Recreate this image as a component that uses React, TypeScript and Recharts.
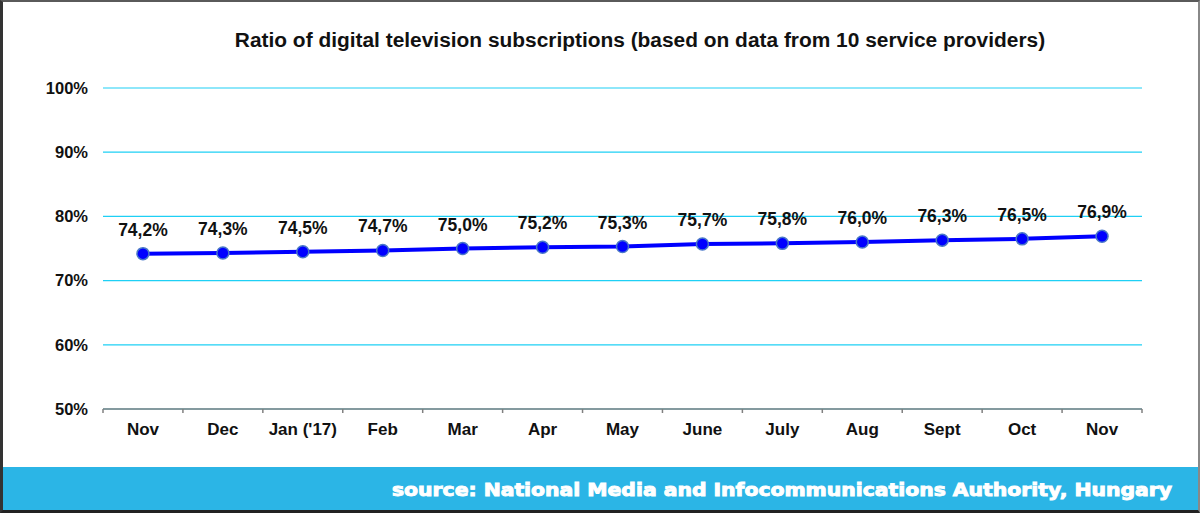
import React from 'react';
import { LineChart, Line, XAxis, YAxis, CartesianGrid, LabelList } from 'recharts';

const months = ['Nov', 'Dec', "Jan ('17)", 'Feb', 'Mar', 'Apr', 'May', 'June', 'July', 'Aug', 'Sept', 'Oct', 'Nov'];
const ratios = [74.2, 74.3, 74.5, 74.7, 75.0, 75.2, 75.3, 75.7, 75.8, 76.0, 76.3, 76.5, 76.9];
const yTicks = [50, 60, 70, 80, 90, 100];

const titleText = 'Ratio of digital television subscriptions (based on data from 10 service providers)';
const sourceText = 'source: National Media and Infocommunications Authority, Hungary';

const data = months.map((m, i) => ({ month: m, key: `${i}`, value: ratios[i] }));

const FONT = '"Liberation Sans", Arial, sans-serif';

const MonthTick = (props: any) => {
  const { x, y, payload, index } = props;
  const half = payload && payload.offset ? payload.offset : 40;
  const axisY = y - 8;
  const isLast = index === months.length - 1;
  return (
    <g>
      <line x1={x - half} x2={x - half} y1={axisY} y2={axisY + 4} stroke="#808080" strokeWidth={1.5} />
      {isLast && (
        <line x1={x + half} x2={x + half} y1={axisY} y2={axisY + 4} stroke="#808080" strokeWidth={1.5} />
      )}
      <text x={x} y={y} dy={18} textAnchor="middle" fill="#111" fontFamily={FONT} fontWeight="bold" fontSize={17}>
        {months[index] ?? payload.value}
      </text>
    </g>
  );
};

const fmtPct = (v: any) => `${Number(v).toFixed(1).replace('.', ',')}%`;

export default function App() {
  return (
    <div
      style={{
        position: 'fixed',
        left: 0,
        top: 0,
        width: 1200,
        height: 513,
        background: '#fff',
        boxSizing: 'border-box',
        borderTop: '2px solid #5a5a5a',
        borderLeft: '3px solid #333',
        borderRight: '2px solid #888',
        borderBottom: '3px solid #222',
        overflow: 'hidden',
      }}
    >
      <div style={{ position: 'absolute', left: -3, top: -2 }}>
        <LineChart width={1200} height={513} data={data} margin={{ top: 88, right: 58, bottom: 74, left: 0 }}>
          <CartesianGrid horizontal vertical={false} stroke="#1ed0f5" strokeWidth={1.2} />
          <XAxis
            dataKey="key"
            scale="band"
            interval={0}
            tickLine={false}
            axisLine={{ stroke: '#808080', strokeWidth: 1.5 }}
            tick={<MonthTick />}
            tickSize={6}
            tickMargin={2}
          />
          <YAxis
            domain={[50, 100]}
            ticks={yTicks}
            width={103}
            axisLine={false}
            tickLine={false}
            tickSize={6}
            tickMargin={9}
            tickFormatter={(v: number) => `${v}%`}
            tick={{ fill: '#111', fontFamily: FONT, fontWeight: 'bold', fontSize: 16.5 }}
          />
          <Line
            type="linear"
            dataKey="value"
            stroke="#0000ff"
            strokeWidth={4}
            isAnimationActive={false}
            dot={{ r: 6, fill: '#0000ff', stroke: '#4a78c8', strokeWidth: 1.5 }}
          >
            <LabelList
              dataKey="value"
              position="top"
              offset={18}
              formatter={fmtPct}
              style={{ fill: '#111', fontFamily: FONT, fontWeight: 'bold', fontSize: 17.5 }}
            />
          </Line>
        </LineChart>
      </div>
      <div
        style={{
          position: 'absolute',
          left: -3,
          top: 25,
          width: 1280,
          textAlign: 'center',
          fontFamily: FONT,
          fontWeight: 'bold',
          fontSize: 20.9,
          lineHeight: '26px',
          color: '#111',
        }}
      >
        {titleText}
      </div>
      <svg style={{ position: 'absolute', left: -3, top: 465 }} width={1200} height={45}>
        <rect x={0} y={0} width={1200} height={45} fill="#2bb5e6" />
        <text
          x={1172}
          y={29}
          textAnchor="end"
          fill="#fff"
          stroke="#fff"
          strokeWidth={0.9}
          fontFamily='"DejaVu Sans", Verdana, sans-serif'
          fontWeight="bold"
          fontSize={17}
          textLength={780}
          lengthAdjust="spacingAndGlyphs"
        >
          {sourceText}
        </text>
      </svg>
    </div>
  );
}
